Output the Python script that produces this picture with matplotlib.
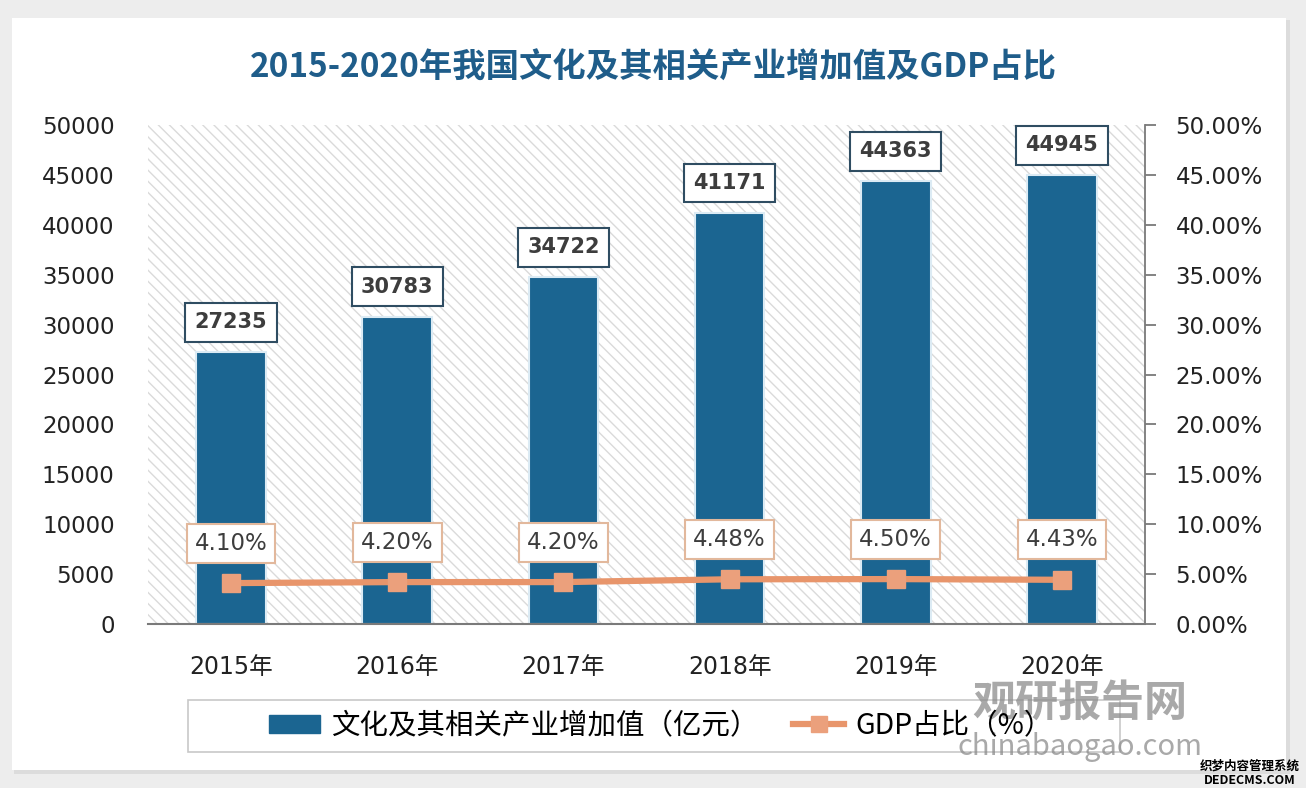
import matplotlib
matplotlib.use('Agg')
import matplotlib.pyplot as plt
from matplotlib.patches import Rectangle, Patch
from matplotlib.lines import Line2D
from matplotlib.ticker import FuncFormatter

# 数据
years = ['2015年', '2016年', '2017年', '2018年', '2019年', '2020年']
value = [27235, 30783, 34722, 41171, 44363, 44945]   # 文化及其相关产业增加值（亿元）
ratio = [4.10, 4.20, 4.20, 4.48, 4.50, 4.43]         # GDP占比（%）

cjk = ['Noto Sans CJK SC', 'DejaVu Sans']
plt.rcParams['font.family'] = ['DejaVu Sans', 'Noto Sans CJK SC']
plt.rcParams['hatch.linewidth'] = 1.0

bar_c = '#1b6591'
line_c = '#e8956b'

fig = plt.figure(figsize=(13.06, 7.88), dpi=100, facecolor='#ededed')

# 白色卡片背景
fig.patches.append(Rectangle((14 / 1306, 1 - 774 / 788), 1276 / 1306, 754 / 788,
                             transform=fig.transFigure, fc='#dcdcdc', ec='none', zorder=-3))
fig.patches.append(Rectangle((12 / 1306, 1 - 770 / 788), 1274 / 1306, 752 / 788,
                             transform=fig.transFigure, fc='white', ec='none', zorder=-2))

ax = fig.add_axes([148 / 1306, 1 - 624 / 788, 997 / 1306, 499 / 788])
ax.set_facecolor('white')
ax.add_patch(Rectangle((0, 0), 1, 1, transform=ax.transAxes, fill=False, hatch='\\\\\\',
                       ec='#dadada', lw=0, zorder=0))

x = list(range(len(years)))
ax.bar(x, value, width=0.42, color=bar_c, edgecolor='#dcebf4', linewidth=1.5, zorder=2)
ax.set_xlim(-0.5, 5.5)
ax.set_ylim(0, 50000)
ax.set_yticks(range(0, 50001, 5000))
ax.set_xticks(x)
ax.set_xticklabels(years)
ax.tick_params(axis='y', length=0, pad=24, labelsize=16.5, labelcolor='#222222')
ax.tick_params(axis='x', length=0, pad=22, labelsize=17, labelcolor='#222222')
for s in ['top', 'left', 'right']:
    ax.spines[s].set_visible(False)
ax.spines['bottom'].set_color('#7a7a7a')
ax.spines['bottom'].set_linewidth(1.5)

for xi, v in zip(x, value):
    ax.annotate(str(v), xy=(xi, v), xytext=(0, 30), textcoords='offset pixels',
                ha='center', va='center', fontsize=15, fontweight='bold', color='#3d3d3d',
                bbox=dict(boxstyle='square,pad=0.45', fc='white', ec='#2f4d62', lw=1.5),
                zorder=5)

ax2 = ax.twinx()
ax2.plot(x, ratio, color=line_c, lw=4.5, marker='s', markersize=13,
         markerfacecolor='#eba07c', markeredgecolor='#eba07c', zorder=3)
ax2.set_ylim(0, 50)
ax2.set_yticks(range(0, 51, 5))
ax2.yaxis.set_major_formatter(FuncFormatter(lambda v, p: '%.2f%%' % v))
ax2.tick_params(axis='y', length=8, width=1.3, color='#7a7a7a', pad=14,
                labelsize=16.5, labelcolor='#222222')
for s in ['top', 'left', 'bottom']:
    ax2.spines[s].set_visible(False)
ax2.spines['right'].set_color('#7a7a7a')
ax2.spines['right'].set_linewidth(1.3)

for xi, r in zip(x, ratio):
    ax2.annotate('%.2f%%' % r, xy=(xi, r), xytext=(0, 40), textcoords='offset pixels',
                 ha='center', va='center', fontsize=16.5, color='#3d3d3d',
                 bbox=dict(boxstyle='square,pad=0.35', fc='white', ec='#e2b89c', lw=1.5),
                 zorder=5)

# 标题
fig.text(653 / 1306, 1 - 68 / 788, '2015-2020年我国文化及其相关产业增加值及GDP占比',
         ha='center', va='center', fontsize=24, fontweight='bold', color='#1f5d8a', family=cjk)

# 图例
fig.patches.append(Rectangle((188 / 1306, 1 - 752 / 788), 932 / 1306, 52 / 788,
                             transform=fig.transFigure, fc='white', ec='#c8c8c8', lw=1.2, zorder=1))
handles = [Patch(color=bar_c),
           Line2D([], [], color=line_c, lw=4.5, marker='s', markersize=11,
                  markerfacecolor='#eba07c', markeredgecolor='#eba07c')]
fig.legend(handles, ['文化及其相关产业增加值（亿元）', 'GDP占比（%）'], loc='center',
           bbox_to_anchor=(661 / 1306, 1 - 726 / 788), ncol=2, frameon=False,
           prop={'family': cjk, 'size': 20.5}, handlelength=1.8, handleheight=0.6,
           handletextpad=0.4, columnspacing=1.2)

# 水印
fig.text(1080 / 1306, 1 - 703 / 788, '观研报告网', ha='center', va='center', fontsize=31,
         fontweight='bold', color='#8c8c8c', alpha=0.75, family=cjk)
fig.text(1080 / 1306, 1 - 747 / 788, 'chinabaogao.com', ha='center', va='center', fontsize=21,
         color='#8c8c8c', alpha=0.75, family=cjk)
fig.text(1250 / 1306, 1 - 766 / 788, '织梦内容管理系统', ha='center', va='center', fontsize=9,
         fontweight='bold', color='black', family=cjk)
fig.text(1250 / 1306, 1 - 780 / 788, 'DEDECMS.COM', ha='center', va='center', fontsize=9,
         fontweight='bold', color='black', family=cjk)

fig.savefig('out.png', dpi=100, facecolor=fig.get_facecolor())
